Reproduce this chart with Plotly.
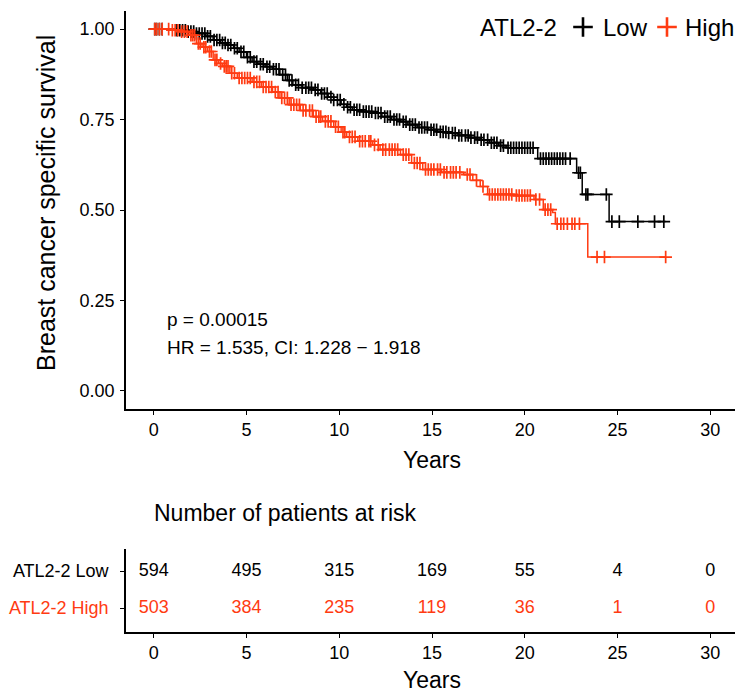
import numpy as np
import plotly.graph_objects as go

# ---------------- data ----------------
low_t = [0, 1.2, 1.8, 2.3, 2.8, 3.2, 3.6, 3.9, 4.3, 4.6, 5.0, 5.3, 5.6, 6.0, 6.4, 6.8, 7.2, 7.5,
         8.0, 8.6, 9.0, 9.4, 9.7, 10.1, 10.4, 10.7, 11.2, 11.8, 12.3, 12.8, 13.3, 13.7, 14.2, 14.8,
         15.3, 15.8, 16.4, 17.0, 17.6, 18.1, 18.6, 19.0, 20.7, 22.8, 23.1, 24.55, 27.6]
low_s = [1.0, 0.997, 0.993, 0.988, 0.980, 0.970, 0.962, 0.956, 0.947, 0.937, 0.922, 0.910, 0.903,
         0.896, 0.889, 0.874, 0.858, 0.846, 0.838, 0.832, 0.822, 0.812, 0.804, 0.792, 0.784, 0.777,
         0.772, 0.768, 0.758, 0.750, 0.744, 0.736, 0.728, 0.722, 0.716, 0.713, 0.706, 0.700, 0.694,
         0.686, 0.678, 0.672, 0.642, 0.603, 0.543, 0.468, 0.468]
low_cens = [0.05, 0.15, 0.3, 0.45, 1.25, 1.4, 1.55, 1.7, 1.85, 2.0, 2.15, 2.3, 2.45, 2.6, 2.75, 2.9,
            3.05, 3.25, 3.4, 3.55, 3.7, 3.85, 4.0, 4.15, 4.35, 4.5, 4.7, 4.85, 5.05, 5.2, 5.4, 5.55,
            5.75, 5.9, 6.1, 6.25, 6.45, 6.6, 6.75, 6.95, 7.1, 7.3, 7.45, 7.65, 7.8, 8.0, 8.2, 8.35,
            8.5, 8.7, 8.85, 9.05, 9.2, 9.35, 9.55, 9.7, 9.9, 10.05, 10.25, 10.45, 10.6, 10.8, 10.95,
            11.1, 11.3, 11.45, 11.6, 11.75, 11.95, 12.1, 12.25, 12.45, 12.6, 12.75, 12.95, 13.1,
            13.25, 13.45, 13.6, 13.8, 13.95, 14.1, 14.3, 14.45, 14.6, 14.75, 14.95, 15.1, 15.25,
            15.45, 15.6, 15.75, 15.9, 16.1, 16.25, 16.45, 16.6, 16.8, 16.95, 17.1, 17.3, 17.45,
            17.65, 17.8, 18.0, 18.2, 18.35, 18.5, 18.7, 18.85, 19.1, 19.25, 19.4, 19.55, 19.7, 19.85,
            20.0, 20.15, 20.3, 20.45, 20.85, 21.0, 21.15, 21.3, 21.45, 21.6, 21.75, 21.9, 22.05,
            22.2, 22.45, 22.9, 23.0, 23.3, 23.4, 24.4, 24.7, 25.1, 26.1, 27.0, 27.5]

high_t = [0, 0.9, 1.4, 1.9, 2.3, 2.6, 2.9, 3.2, 3.5, 3.7, 4.1, 4.5, 5.3, 5.8, 6.4, 6.8, 7.3, 7.9,
          8.6, 9.1, 9.7, 10.1, 10.4, 11.0, 11.8, 12.2, 13.3, 13.9, 14.5, 15.5, 16.7, 17.2, 17.6, 18.0,
          19.4, 20.5, 21.0, 21.5, 21.65, 23.4, 27.6]
high_s = [1.0, 0.997, 0.993, 0.983, 0.960, 0.950, 0.938, 0.915, 0.905, 0.897, 0.878, 0.865, 0.854,
          0.840, 0.826, 0.810, 0.791, 0.775, 0.758, 0.745, 0.730, 0.715, 0.702, 0.690, 0.680, 0.667,
          0.653, 0.630, 0.612, 0.604, 0.598, 0.582, 0.565, 0.543, 0.540, 0.529, 0.501, 0.493, 0.462,
          0.370, 0.370]
high_cens = [0.05, 0.15, 0.3, 0.45, 0.8, 1.0, 1.15, 1.3, 1.5, 1.65, 1.8, 2.0, 2.1, 2.2, 2.4, 2.5,
             2.7, 2.8, 3.0, 3.1, 3.3, 3.4, 3.6, 3.8, 3.9, 4.0, 4.2, 4.35, 4.6, 4.75, 4.9, 5.05, 5.2,
             5.4, 5.55, 5.7, 5.9, 6.05, 6.2, 6.35, 6.55, 6.7, 6.9, 7.05, 7.2, 7.4, 7.55, 7.7, 7.85,
             8.05, 8.2, 8.4, 8.55, 8.75, 8.9, 9.0, 9.25, 9.4, 9.55, 9.8, 9.95, 10.2, 10.3, 10.55,
             10.7, 10.85, 11.1, 11.25, 11.4, 11.6, 11.7, 11.9, 12.1, 12.35, 12.5, 12.7, 12.85, 13.0,
             13.15, 13.45, 13.6, 13.75, 14.05, 14.2, 14.35, 14.65, 14.8, 14.95, 15.1, 15.3, 15.45,
             15.65, 15.8, 16.0, 16.15, 16.3, 16.5, 16.9, 17.05, 17.4, 17.75, 18.1, 18.25, 18.4,
             18.55, 18.7, 18.85, 19.0, 19.15, 19.3, 19.55, 19.7, 19.85, 20.0, 20.15, 20.3, 20.6,
             20.8, 21.1, 21.25, 21.4, 21.75, 21.95, 22.1, 22.3, 22.55, 22.7, 22.95, 23.9, 24.3, 27.6]

risk_times = [0, 5, 10, 15, 20, 25, 30]
risk_low = [594, 495, 315, 169, 55, 4, 0]
risk_high = [503, 384, 235, 119, 36, 1, 0]

group_labels = ["ATL2-2 Low", "ATL2-2 High"]
legend_title = "ATL2-2"
legend_names = ["Low", "High"]
y_ticks = [0, 0.25, 0.5, 0.75, 1.0]
x_ticks = [0, 5, 10, 15, 20, 25, 30]
pval_text = "p = 0.00015"
hr_text = "HR = 1.535, CI: 1.228 \u2212 1.918"

# ---------------- style ----------------
BLACK = "#000000"
RED = "#FF3B12"
FONT = "Liberation Sans, Arial, sans-serif"
W, H = 743, 695          # browser window
OFF = 8                  # default page body margin
FW, FH = W - OFF, H - OFF


def px_x(p):
    return (p - OFF) / FW


def px_y(p):
    return 1 - (p - OFF) / FH


def surv_at(ts, ss, times):
    idx = np.searchsorted(np.array(ts), np.array(times), side="right") - 1
    return [ss[i] for i in idx]


fig = go.Figure()

for ts, ss, cens, col in [(low_t, low_s, low_cens, BLACK), (high_t, high_s, high_cens, RED)]:
    fig.add_trace(go.Scatter(x=ts, y=ss, mode="lines", line=dict(color=col, width=1.5, shape="hv"),
                             showlegend=False, xaxis="x", yaxis="y", hoverinfo="skip"))
    fig.add_trace(go.Scatter(x=cens, y=surv_at(ts, ss, cens), mode="markers",
                             marker=dict(symbol="cross-thin", size=9, line=dict(color=col, width=1.7)),
                             showlegend=False, xaxis="x", yaxis="y", hoverinfo="skip"))

# risk table
for row_y, vals, col in [(2, risk_low, BLACK), (1, risk_high, RED)]:
    fig.add_trace(go.Scatter(x=risk_times, y=[row_y] * len(risk_times), mode="text",
                             text=[str(v) for v in vals], textfont=dict(color=col, size=18, family=FONT),
                             textposition="middle center", showlegend=False, xaxis="x2", yaxis="y2",
                             hoverinfo="skip"))

# manual legend keys (overlay axis in page pixels)
leg_key_x = [583, 667]
fig.add_trace(go.Scatter(x=leg_key_x, y=[27, 27], mode="markers", showlegend=False, hoverinfo="skip",
                         marker=dict(symbol="cross-thin", size=14, line=dict(color=[BLACK, RED], width=2.6)),
                         xaxis="x3", yaxis="y3"))

axis_common = dict(showline=True, linecolor=BLACK, linewidth=1.6, ticks="outside", ticklen=4,
                   tickwidth=1.4, tickcolor=BLACK, showgrid=False, zeroline=False,
                   tickfont=dict(size=18, color=BLACK, family=FONT))

xdom = [px_x(126), px_x(738)]
fig.update_layout(
    width=FW, height=FH,
    margin=dict(l=0, r=0, t=0, b=0),
    paper_bgcolor="white", plot_bgcolor="rgba(0,0,0,0)",
    font=dict(family=FONT, color=BLACK),
    showlegend=False,
    xaxis=dict(domain=xdom, range=[-1.5, 31.5], tickvals=x_ticks, anchor="y", **axis_common),
    yaxis=dict(domain=[px_y(409), px_y(11)], range=[-0.05, 1.05], tickvals=y_ticks,
               ticktext=[f"{v:.2f}" for v in y_ticks], anchor="x", ticklabelstandoff=2, **axis_common),
    xaxis2=dict(domain=xdom, range=[-1.5, 31.5], tickvals=x_ticks, anchor="y2", **axis_common),
    yaxis2=dict(domain=[px_y(632), px_y(549)], range=[0.35, 2.6], tickvals=[2, 1],
                ticktext=[f'<span style="color:{BLACK}">{group_labels[0]}</span>',
                          f'<span style="color:{RED}">{group_labels[1]}</span>'],
                anchor="x2", ticklabelstandoff=8, **axis_common),
    xaxis3=dict(domain=[0, 1], range=[OFF, W], visible=False, anchor="y3"),
    yaxis3=dict(domain=[0, 1], range=[H, OFF], visible=False, anchor="x3"),
    annotations=[
        dict(text="Breast cancer specific survival", x=px_x(46), y=px_y(203), xref="paper", yref="paper",
             textangle=-90, showarrow=False, font=dict(size=25, family=FONT, color=BLACK),
             xanchor="center", yanchor="middle"),
        dict(text="Years", x=(xdom[0] + xdom[1]) / 2, y=px_y(460), xref="paper", yref="paper",
             showarrow=False, font=dict(size=23, family=FONT, color=BLACK), xanchor="center", yanchor="middle"),
        dict(text="Years", x=(xdom[0] + xdom[1]) / 2, y=px_y(680), xref="paper", yref="paper",
             showarrow=False, font=dict(size=23, family=FONT, color=BLACK), xanchor="center", yanchor="middle"),
        dict(text="Number of patients at risk", x=px_x(152), y=px_y(513), xref="paper", yref="paper",
             showarrow=False, font=dict(size=23, family=FONT, color=BLACK), xanchor="left", yanchor="middle"),
        dict(text=pval_text, x=0.6, y=0.198, xref="x", yref="y", showarrow=False,
             font=dict(size=19, family=FONT, color=BLACK), xanchor="left", yanchor="middle"),
        dict(text=hr_text, x=0.6, y=0.121, xref="x", yref="y", showarrow=False,
             font=dict(size=19, family=FONT, color=BLACK), xanchor="left", yanchor="middle"),
        dict(text=legend_title, x=478, y=27, xref="x3", yref="y3", showarrow=False,
             font=dict(size=24, family=FONT, color=BLACK), xanchor="left", yanchor="middle"),
        dict(text=legend_names[0], x=601, y=27, xref="x3", yref="y3", showarrow=False,
             font=dict(size=24, family=FONT, color=BLACK), xanchor="left", yanchor="middle"),
        dict(text=legend_names[1], x=683, y=27, xref="x3", yref="y3", showarrow=False,
             font=dict(size=24, family=FONT, color=BLACK), xanchor="left", yanchor="middle"),
    ],
)

fig.write_html("out.html")
